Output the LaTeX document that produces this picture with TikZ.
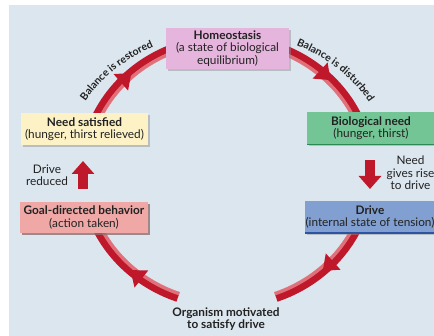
\documentclass[tikz,border=0pt]{standalone}
\usepackage{fontspec}
\setmainfont{Lato}
\usetikzlibrary{arrows.meta,decorations.markings,decorations.text,shadows}
\definecolor{bg}{HTML}{DCE6EF}
\definecolor{homeoc}{HTML}{E6B5DD}
\definecolor{satc}{HTML}{FCF2C6}
\definecolor{bioc}{HTML}{74C596}
\definecolor{biol}{HTML}{2E8A55}
\definecolor{drivec}{HTML}{819FD0}
\definecolor{drivel}{HTML}{2B55A3}
\definecolor{goalc}{HTML}{EFA8A6}
\definecolor{arrred}{HTML}{C0182B}
\definecolor{arrlight}{HTML}{EC9096}
\definecolor{txt}{HTML}{222222}
\newcommand{\cyclearc}[3]{%
  \draw[line width=10pt, arrred] plot[domain=#1:#2, samples=60] ({227+143*cos(\x)},{172-133*sin(\x)});
  \draw[line width=3.5pt, arrlight, opacity=0.75] plot[domain=#1:#2, samples=60] ({227+139.5*cos(\x)},{172-129.5*sin(\x)});
  \path[decoration={markings, mark=at position #3 with {\fill[arrred] (4,0) -- (-10,11) -- (-10,-11) -- cycle;}}, decorate] plot[domain=#1:#2, samples=60] ({227+143*cos(\x)},{172-133*sin(\x)});
}
\begin{document}
\begin{tikzpicture}[x=1pt,y=-1pt,
  box/.style={rectangle, inner sep=0pt, align=center, text=txt,
    font=\fontsize{11.8}{12.3}\selectfont,
    drop shadow={shadow xshift=1.6pt, shadow yshift=-1.6pt, fill=black!45, opacity=0.45}},
  plain/.style={align=center, text=txt, inner sep=0pt, font=\fontsize{11.8}{12.3}\selectfont},
  blockarrow/.style={line width=10pt, arrred, -{Triangle[width=22pt,length=13pt]}},
  arclabel/.style={decorate, decoration={text along path, text align=center, raise=0pt}}
]
\useasboundingbox (0,0) rectangle (434,336);
\begin{scope}
\clip (0,0) rectangle (434,336);
\fill[bg] (9,5) rectangle (434,336);

% cycle arcs
\cyclearc{160}{110}{0.52}
\cyclearc{70}{20}{0.5}
\cyclearc{-22}{-70}{0.5}
\cyclearc{-110}{-158}{0.44}

% arc labels
\path[arclabel, decoration={text={|\fontsize{10.5}{11}\selectfont\bfseries\color{txt}|Balance is restored}}]
  plot[domain=165:103, samples=80] ({227+164*cos(\x)},{172-140*sin(\x)});
\path[arclabel, decoration={text={|\fontsize{10.5}{11}\selectfont\bfseries\color{txt}|Balance is disturbed}}]
  plot[domain=80:13, samples=80] ({227+164*cos(\x)},{172-140*sin(\x)});

% boxes
\node[box, fill=homeoc, minimum width=123pt, minimum height=41pt] (homeo) at (227.5,48.5)
  {\textbf{Homeostasis}\\(a state of biological\\equilibrium)};
\node[box, fill=satc, minimum width=127pt, minimum height=32pt] (needsat) at (84.5,129)
  {\textbf{Need satisfied}\\(hunger, thirst relieved)};
\node[box, fill=bioc, minimum width=128pt, minimum height=32pt] (bioneed) at (371,128.5)
  {\textbf{Biological need}\\(hunger, thirst)};
\draw[biol, line width=1.5pt] (bioneed.south west) -- (bioneed.south east);
\node[box, fill=drivec, minimum width=130pt, minimum height=32pt] (drive) at (370,217)
  {\textbf{Drive}\\(internal state of tension)};
\draw[drivel, line width=1.5pt] (drive.south west) -- (drive.south east);
\node[box, fill=goalc, minimum width=128pt, minimum height=31pt,
  drop shadow={shadow xshift=1.6pt, shadow yshift=-1.6pt, fill=goalc!60!black, opacity=0.6}] (goal) at (84,217.5)
  {\textbf{Goal-directed behavior}\\(action taken)};

% side arrows and labels
\coordinate (downA) at (370,160);
\coordinate (downB) at (370,189);
\draw[blockarrow] (downA) -- (downB);
\coordinate (upA) at (83,189);
\coordinate (upB) at (83,161);
\draw[blockarrow] (upA) -- (upB);
\node[plain] (drivered) at (47,175) {Drive\\reduced};
\node[plain] (needrise) at (410.5,173) {Need\\gives rise\\to drive};
\node[plain, font=\fontsize{11.8}{12.3}\selectfont\bfseries] (organism) at (226,319) {Organism motivated\\to satisfy drive};
\end{scope}
\end{tikzpicture}
\end{document}
